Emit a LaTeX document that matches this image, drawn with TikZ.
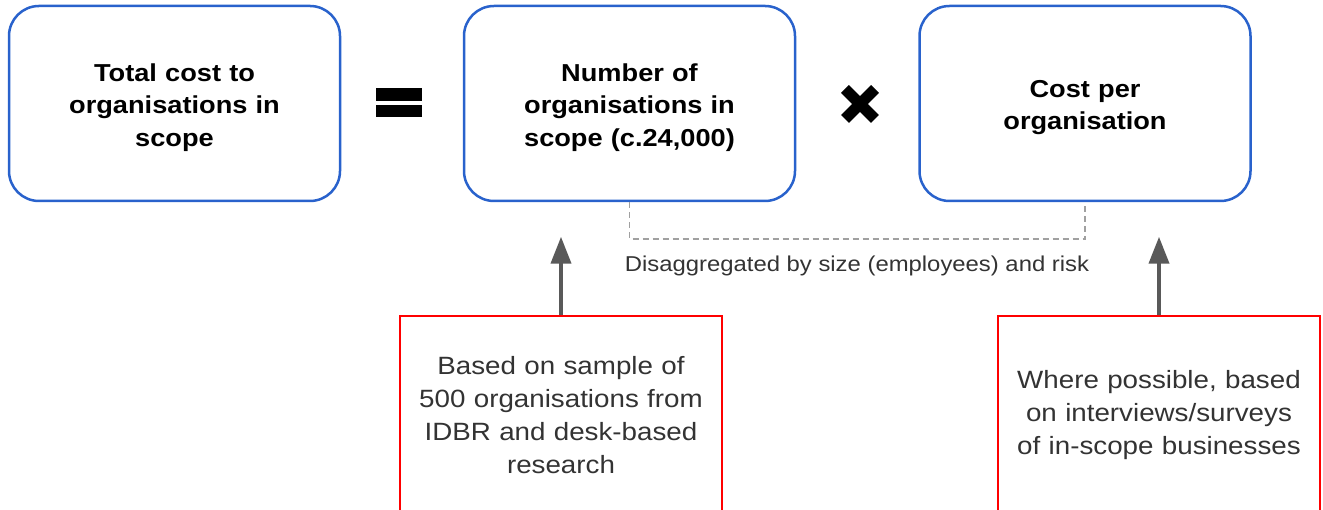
\documentclass[tikz,border=0pt]{standalone}
\usepackage{fontspec}
\setmainfont[FakeStretch=1.11]{Liberation Sans}
\usetikzlibrary{arrows.meta}
\definecolor{boxblue}{HTML}{2962CC}
\definecolor{txtgrey}{HTML}{333333}
\definecolor{arrgrey}{HTML}{595959}
\definecolor{dashgrey}{HTML}{A0A0A0}
\tikzset{
  topbox/.style={draw=boxblue, line width=2.5pt, rounded corners=30pt, minimum width=331pt, minimum height=195pt},
  toptext/.style={align=center, text width=310pt, font=\fontsize{24.5}{32.5}\selectfont\bfseries},
  notebox/.style={draw=red, line width=2.5pt, minimum width=322pt, minimum height=198pt, align=center, text width=310pt, text=txtgrey, font=\fontsize{25}{33}\selectfont},
  uparr/.style={draw=arrgrey, line width=4pt, -{Triangle[length=27pt,width=20pt,fill=arrgrey]}},
  bracket/.style={draw=dashgrey, line width=1.5pt, dash pattern=on 6pt off 4pt},
  oplabel/.style={text=txtgrey, font=\fontsize{21.5}{25}\selectfont}
}
\begin{document}
\begin{tikzpicture}
\useasboundingbox (0,0) rectangle (1323pt,510pt);
\clip (0,0) rectangle (1323pt,510pt);
\node[topbox] (b1) at (174.5pt,406.5pt) {};
\node[topbox] (b2) at (629.5pt,406.5pt) {};
\node[topbox] (b3) at (1085pt,406.5pt) {};
\node[toptext] (t1) at ([yshift=-4pt]b1.center) {Total cost to\\organisations in\\scope};
\node[toptext] (t2) at ([yshift=-4pt]b2.center) {Number of\\organisations in\\scope (c.24,000)};
\node[toptext] (t3) at ([yshift=-4pt]b3.center) {Cost per\\organisation};
% equals sign
\fill[black] (376pt,409pt) rectangle (422pt,422pt);
\fill[black] (376pt,393pt) rectangle (422pt,405pt);
% multiplication sign
\draw[line width=11pt] (845pt,391pt) -- (875pt,421pt);
\draw[line width=11pt] (845pt,421pt) -- (875pt,391pt);
% bracket
\draw[bracket] (b2.south) -- ++(0,-37pt) -| (b3.south);
\node[oplabel] (lab) at (857pt,244pt) {Disaggregated by size (employees) and risk};
% notes
\node[notebox] (n1) at (561pt,95pt) {Based on sample of\\500 organisations from\\IDBR and desk-based\\research};
\node[notebox] (n2) at (1159pt,95pt) {Where possible, based\\on interviews/surveys\\of in-scope businesses};
\draw[uparr] (n1.north) -- ++(0,78pt);
\draw[uparr] (n2.north) -- ++(0,78pt);
\end{tikzpicture}
\end{document}
